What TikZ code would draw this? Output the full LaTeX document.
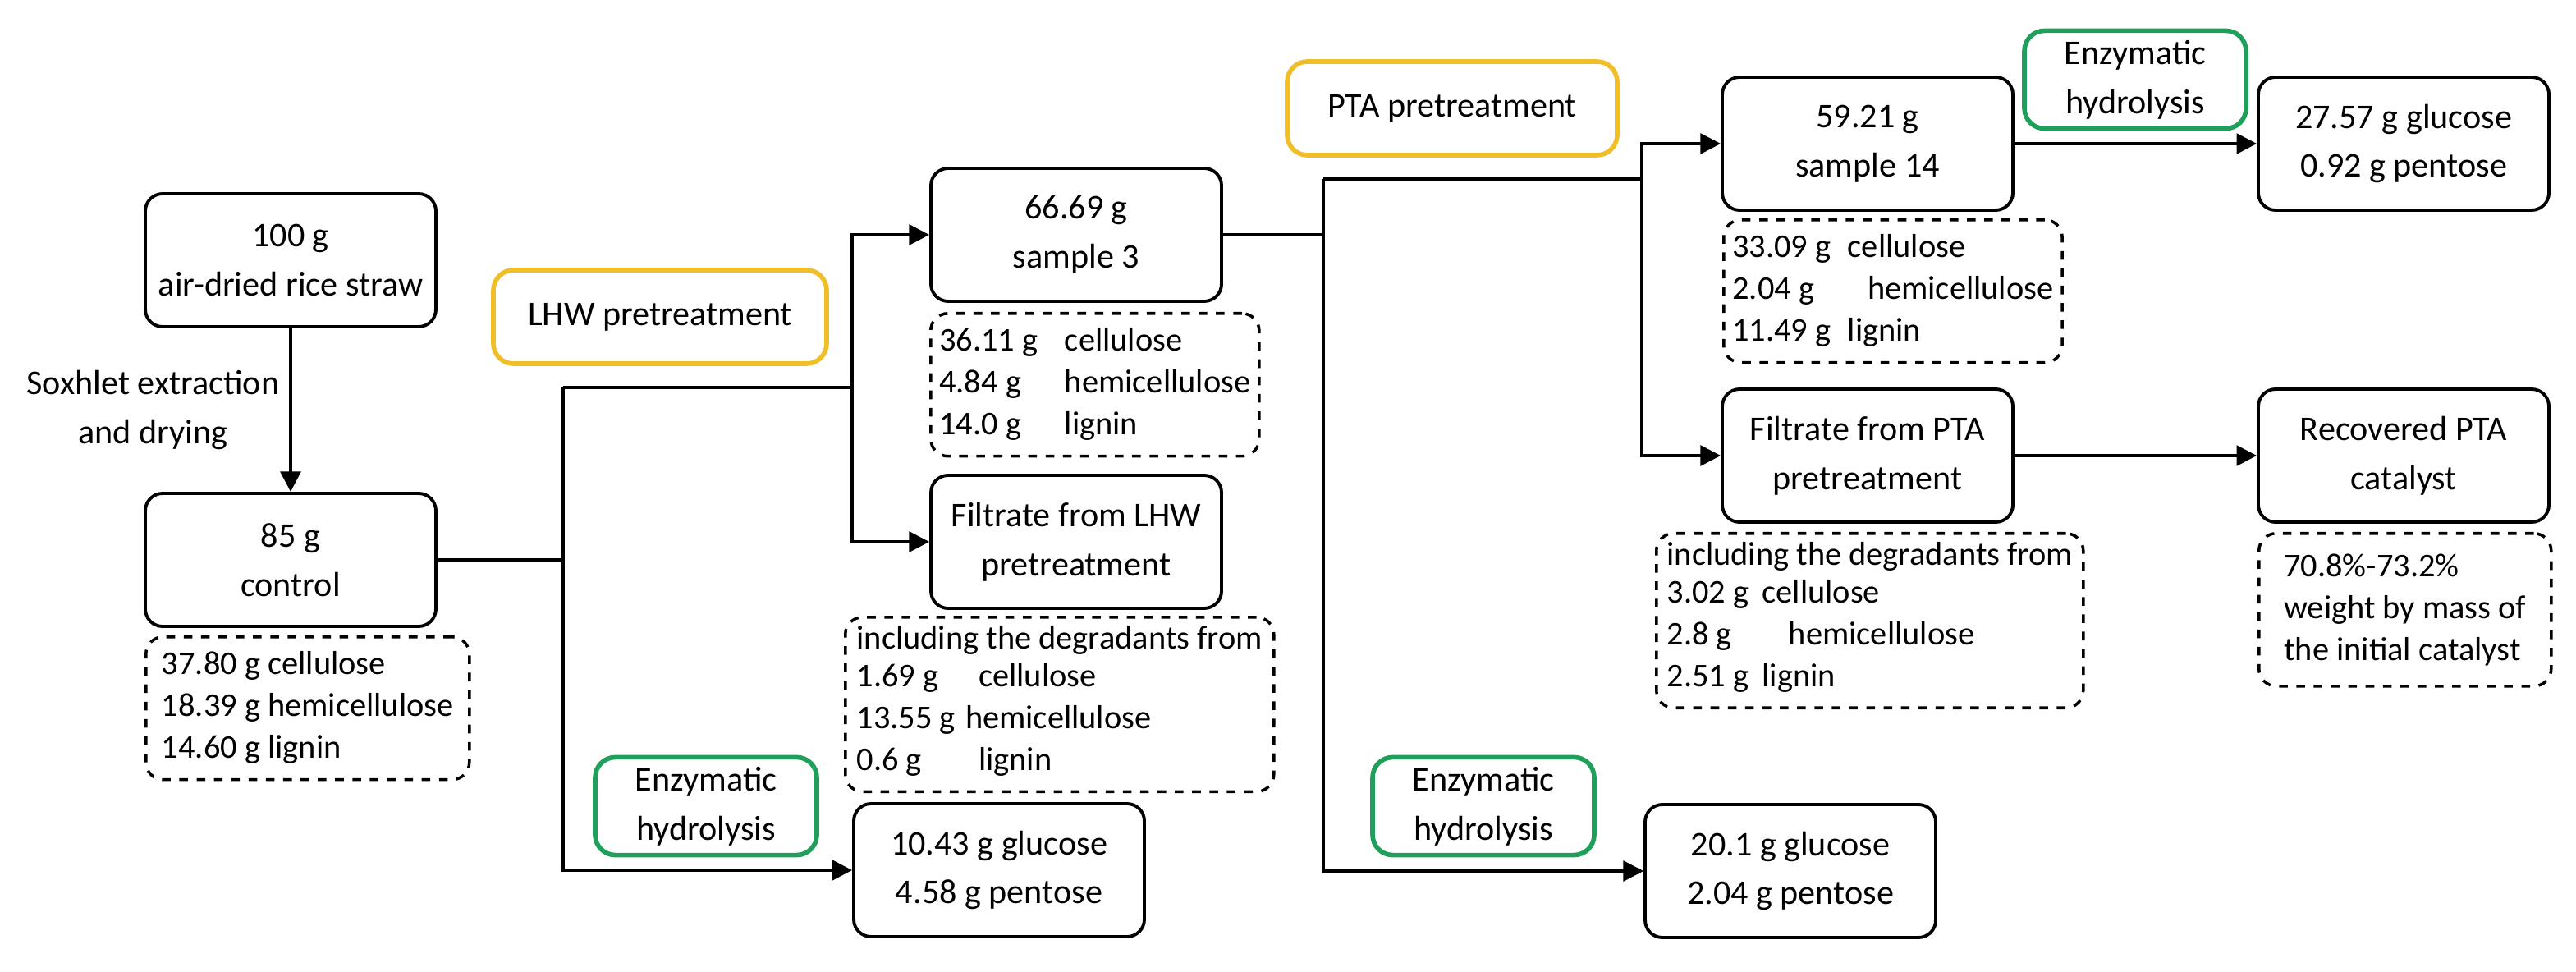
\documentclass[tikz,border=0pt]{standalone}
\usepackage{fontspec}
\setmainfont{Carlito}
\usetikzlibrary{positioning, shapes.geometric, arrows.meta}

\tikzset{
  box/.style={draw, line width=1.1pt, rounded corners=6pt, minimum width=3.54cm, minimum height=1.62cm, align=center, font=\fontsize{12}{17}\selectfont},
  stage/.style={draw, line width=1.6pt, rounded corners=7pt, minimum height=1.14cm, align=center, font=\fontsize{12}{17}\selectfont},
  lhw/.style={stage, draw={rgb,255:red,240;green,190;blue,40}},
  enz/.style={stage, draw={rgb,255:red,30;green,160;blue,90}, minimum width=2.7cm},
  comp/.style={draw, dashed, line width=1pt, rounded corners=6pt, anchor=north west, align=left, inner sep=3pt, font=\fontsize{11.5}{14.5}\selectfont},
  link/.style={line width=1.1pt},
  arr/.style={link, -{Triangle[length=7pt, width=7pt]}}
}

\begin{document}
\begin{tikzpicture}
  \useasboundingbox (0,0) rectangle (31.38,11.83);

  % left part
  \node[box] (straw) at (3.54,8.66) {100 g\\air-dried rice straw};
  \node[box] (control) at (3.54,5.01) {85 g\\control};
  \node[comp, minimum width=3.94cm, minimum height=1.6cm] (ccomp) at (1.76,4.09)
    {\begin{tabular}{@{}l@{}}37.80 g cellulose\\18.39 g hemicellulose\\14.60 g lignin\end{tabular}};
  \draw[arr] (straw) -- node[left, align=center, font=\fontsize{12}{17}\selectfont] {Soxhlet extraction\\and drying} (control);

  % LHW stage
  \node[lhw, minimum width=4.06cm] (lhw) at (8.04,7.97) {LHW pretreatment};
  \node[enz] (enz1) at (8.6,2.01) {Enzymatic\\hydrolysis};
  \node[box] (sample3) at (13.11,8.97) {66.69 g\\sample 3};
  \node[comp, minimum width=3.88cm, minimum height=1.62cm] (s3comp) at (11.32,8.03)
    {\begin{tabular}{@{}l@{\hspace{0.8em}}l@{}}36.11 g & cellulose\\4.84 g & hemicellulose\\14.0 g & lignin\end{tabular}};
  \node[box] (filt1) at (13.11,5.23) {Filtrate from LHW\\pretreatment};
  \node[comp, minimum width=5.22cm, minimum height=2.0cm] (f1comp) at (10.28,4.33)
    {including the degradants from\\\begin{tabular}{@{}l@{\hspace{0.3em}}l@{}}1.69 g & \hspace{0.4em}cellulose\\13.55 g & hemicellulose\\0.6 g & \hspace{0.4em}lignin\end{tabular}};
  \node[box] (glu1) at (12.17,1.23) {10.43 g glucose\\4.58 g pentose};

  \coordinate (j1) at (6.86,5.01);
  \coordinate (j1t) at (6.86,7.11);
  \coordinate (j2) at (10.38,7.11);
  \draw[link] (control) -- (j1);
  \draw[link] (j1t) -- (j2);
  \draw[arr] (j1t) |- (glu1);
  \draw[arr] (j2) |- (sample3);
  \draw[arr] (j2) |- (filt1);

  % PTA stage
  \node[lhw, minimum width=4.02cm] (pta) at (17.69,10.51) {PTA pretreatment};
  \node[enz] (enz2) at (18.07,2.01) {Enzymatic\\hydrolysis};
  \node[box] (sample14) at (22.75,10.08) {59.21 g\\sample 14};
  \node[comp, minimum width=3.88cm, minimum height=1.62cm] (s14comp) at (20.98,9.17)
    {\begin{tabular}{@{}l@{\hspace{0.5em}}l@{}}33.09 g & cellulose\\2.04 g & \hspace{0.6em}hemicellulose\\11.49 g & lignin\end{tabular}};
  \node[box] (filt2) at (22.75,6.28) {Filtrate from PTA\\pretreatment};
  \node[comp, minimum width=5.2cm, minimum height=2.02cm] (f2comp) at (20.16,5.35)
    {including the degradants from\\\begin{tabular}{@{}l@{\hspace{0.4em}}l@{}}3.02 g & cellulose\\2.8 g & \hspace{0.8em}hemicellulose\\2.51 g & lignin\end{tabular}};
  \node[box] (glu2) at (21.81,1.22) {20.1 g glucose\\2.04 g pentose};

  \coordinate (k1) at (16.12,8.97);
  \coordinate (k1t) at (16.12,9.65);
  \coordinate (k2) at (20.0,9.65);
  \draw[link] (sample3) -- (k1);
  \draw[link] (k1t) -- (k2);
  \draw[link] (k1) -- (k1t);
  \draw[arr] (k1) |- (glu2);
  \draw[arr] (k2) |- (sample14);
  \draw[arr] (k2) |- (filt2);

  % products
  \node[enz] (enz3) at (26.01,10.86) {Enzymatic\\hydrolysis};
  \node[box] (glu3) at (29.28,10.08) {27.57 g glucose\\0.92 g pentose};
  \node[box] (recov) at (29.28,6.28) {Recovered PTA\\catalyst};
  \node[comp, minimum width=3.56cm, minimum height=1.86cm] (rcomp) at (27.5,5.35)
    {70.8\%-73.2\%\\weight by mass of\\the initial catalyst};
  \draw[arr] (sample14) -- (glu3);
  \draw[arr] (filt2) -- (recov);
\end{tikzpicture}
\end{document}
